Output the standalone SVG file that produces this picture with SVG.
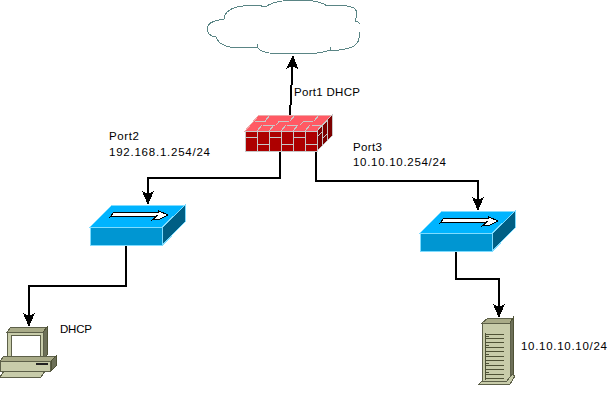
<svg xmlns="http://www.w3.org/2000/svg" width="609" height="405" viewBox="0 0 609 405">
<style>
path,polygon,rect{shape-rendering:crispEdges}
text{font-family:"Liberation Sans",Arial,sans-serif;font-size:11.500px;fill:#000}
.c{fill:none;stroke:#000;stroke-width:2}
.st{fill:#00b4ff;stroke:#7fdcff;stroke-width:1}
.sf{fill:#0096d2;stroke:#7fdcff;stroke-width:1}
.sr{fill:#005f85;stroke:#7fdcff;stroke-width:1}
.ar{fill:#fff;stroke:#000;stroke-width:1}
.fb{fill:#ad0000;stroke:#c8c8c8;stroke-width:1}
.fl{stroke:#c8c8c8;stroke-width:1;fill:none}
.k1{fill:#c8ccaa;stroke:#5d6049;stroke-width:1}
.k2{fill:#a9ab88;stroke:#5d6049;stroke-width:1}
.k3{fill:#6d7058;stroke:#4f5236;stroke-width:1}
.sl{stroke:#4f5236;stroke-width:1;fill:none}
</style>
<defs>
<marker id="a" markerUnits="userSpaceOnUse" markerWidth="14" markerHeight="14" refX="13" refY="7" orient="auto">
<path d="M14 7 L0 1 L3 7 L0 13Z" fill="#000"/>
</marker>
<g id="sw">
<polygon class="st" points="0,22 22,0 95,0 72.500,22"/>
<polygon class="sf" points="0,22 72.500,22 72.500,40 0,40"/>
<polygon class="sr" points="72.500,22 95,0 95,17 72.500,40"/>
<polygon class="ar" points="20,12 24,7 68,7 68,5.500 78,10 70,14 62,15 67,11"/>
</g>
</defs>
<g id="connectors">
<path class="c" d="M290 115L293 56" marker-end="url(#a)"/>
<path class="c" d="M280 151V178H148V204" marker-end="url(#a)"/>
<path class="c" d="M316 151V181H478V210" marker-end="url(#a)"/>
<path class="c" d="M126 245V286H29V326" marker-end="url(#a)"/>
<path class="c" d="M456 251V279H499V317" marker-end="url(#a)"/>
</g>
<g id="cloud">
<path d="M224 19C224 12 232 7 243 6C252 5 259 5 265 7C272 2 285 0 298 0C311 0 322 2 327 6C335 5 347 5 354 8C358 11 357 17 355 21C358 22 360 23 360 24M359 32C360 38 359 44 352 47C346 49 337 51 330 50C322 54 303 54 284 54C271 54 260 52 257 47C252 48 238 48 230 47C222 46 217 41 216 37C209 36 207 32 207 28C208 23 213 21 219 20C221 20 223 20 224 19M264 7L259 5M330 50L331 47M257 47L257 44" fill="#fff" stroke="#5a8585" stroke-width="1"/>
</g>
<g id="firewall">
<polygon points="245,131 259,115 332,115 317,131" fill="#ff5a64" stroke="#f0a8a8"/>
<polygon class="fb" points="245,131 317,131 317,151 245,151"/>
<polygon points="317,131 332,115 332,136 317,151" fill="#7d0000" stroke="#c8c8c8"/>
<path class="fl" d="M245 137H257M257 131V151M257 144H269M269 131V151M269 137H281M281 131V151M281 144H293M293 131V151M293 137H305M305 131V151M305 144H317M255 121H266M263 125H275M278 121H289M287 125H298M303 121H313M312 125H323M270 115L265 121M295 115L290 121M319 115L314 121M280 121L276 125M304 121L300 125M262 125L257 131M274 125L269 131M286 125L281 131M298 125L293 131M310 125L305 131M322 125L317 131M322 126V145M327 121V141M317 137L322 132M322 139L327 134"/>
</g>
<g id="switch-left"><use href="#sw" x="90" y="205"/></g>
<g id="switch-right"><use href="#sw" x="420" y="211"/></g>
<g id="pc">
<polygon class="k2" points="7,332 11,327 47,327 43,332"/>
<polygon class="k3" points="43,332 47,327 47,355 43,360"/>
<rect class="k1" x="7.500" y="332" width="36" height="28"/>
<rect x="11" y="335.500" width="29" height="21" fill="#fff" stroke="#5d6049"/>
<polygon class="k2" points="0,361 4,356 56,356 51,361"/>
<polygon class="k3" points="51,361 56,356 56,366 51,371"/>
<rect class="k1" x="0.500" y="361" width="50" height="10"/>
<rect x="36" y="363" width="12" height="2" fill="#222"/>
<polygon class="k1" points="4,371 45,371 41,377 0,377"/>
</g>
<g id="server">
<polygon class="k2" points="482,323 488,318 513,318 510,323"/>
<polygon class="k3" points="510,323 513,318 513,375 510,383"/>
<rect class="k1" x="482.500" y="323" width="27.500" height="60"/>
<polygon class="k1" points="479,384 510,384 515,376 512,374 507,381 482,381"/>
<path class="sl" d="M485 333V380M485 334H504M485 336H489M485 338H504M485 342H504M485 345H489M485 347H504M485 351H504M485 354H489M485 356H504M485 360H504M485 363H489M485 365H504M485 369H504M485 372H489M485 374H504M485 378H504"/>
</g>
<g id="labels">
<text x="294" y="96" textLength="66">Port1 DHCP</text>
<text x="109" y="140" textLength="30">Port2</text>
<text x="109" y="156" textLength="101">192.168.1.254/24</text>
<text x="353" y="151" textLength="29">Port3</text>
<text x="353" y="166" textLength="93">10.10.10.254/24</text>
<text x="60" y="333" textLength="32">DHCP</text>
<text x="521" y="350" textLength="86">10.10.10.10/24</text>
</g>
</svg>
